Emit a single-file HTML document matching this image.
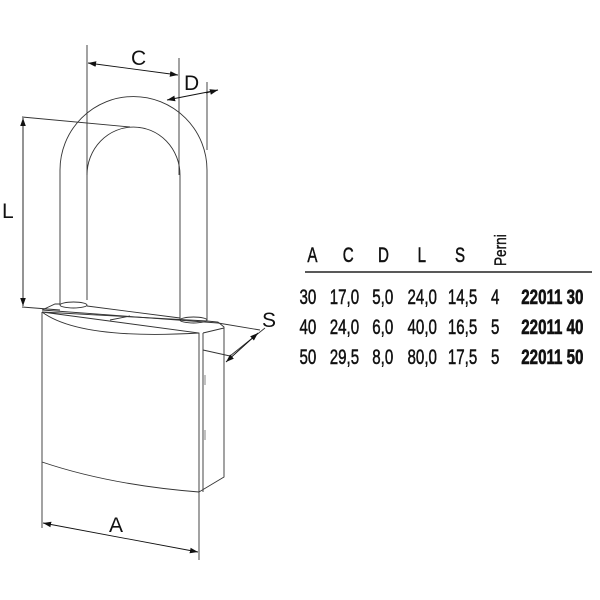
<!DOCTYPE html>
<html><head><style>
html,body{margin:0;padding:0;background:#fff;}
svg{display:block}
.t{font-family:"Liberation Sans",sans-serif;font-size:21px;fill:#111;stroke:#111;stroke-width:0.5}
.b{font-weight:bold;stroke-width:0.6}
</style></head><body>
<svg width="600" height="600" viewBox="0 0 600 600">
<defs><marker id="ar" viewBox="0 0 10 10" refX="10" refY="5" markerWidth="9" markerHeight="9" orient="auto-start-reverse"><path d="M0,1.5 L10,5 L0,8.5z" fill="#111"/></marker></defs>
<g fill="none" stroke="#333" stroke-width="0.9">
<path d="M60,305 L60,170 A73.5,73.5 0 0 1 207,170 L207,320"/>
<path d="M87,300 L87,175 A46.5,48 0 0 1 180,175 L180,320"/>
<ellipse cx="73.5" cy="305" rx="13.5" ry="3"/>
<ellipse cx="193.5" cy="320" rx="13.5" ry="3"/>
<path d="M42,310 L55,304 L60,304 M87,306 L180,318 M207,321 L218,322 L224,327 L224,477 L199,492 L199,333 L42,312 Z"/>
<path d="M42,312 L42,462 Q110,485 199,492"/>
<path d="M42,312 Q80,340 199,333"/>
<path d="M42,310 L218,323"/>
<path d="M203,333 L203,492 M203,333 L224,328"/>
<path d="M205,375 L205,385 M205,430 L205,440" stroke-width="0.6"/>
<path d="M110,320 L130,316"/>
<path d="M87,45 L87,175 M179,58 L179,175 M207,82 L207,150"/>
<path d="M22,117 L130,127 M22,307 L60,310"/>
<path d="M42,462 L42,528 M199,492 L199,560"/>
<path d="M218,323 L260,330 M203,350 L230,356 M230,356 L265,328"/>
</g>
<g stroke="#111" stroke-width="0.9" fill="none">
<line x1="88" y1="63" x2="178" y2="75" marker-start="url(#ar)" marker-end="url(#ar)"/>
<line x1="167" y1="100" x2="218" y2="90" marker-start="url(#ar)"/>
<line x1="206" y1="93" x2="218" y2="90" marker-end="url(#ar)"/>
<line x1="23" y1="118" x2="23" y2="306" marker-start="url(#ar)" marker-end="url(#ar)"/>
<line x1="43" y1="523" x2="198" y2="552" marker-start="url(#ar)" marker-end="url(#ar)"/>
<line x1="258" y1="333" x2="226" y2="362" marker-start="url(#ar)" marker-end="url(#ar)"/>
</g>
<g font-family="Liberation Sans,sans-serif" font-size="21" fill="#111">
<text x="131" y="65">C</text>
<text x="184" y="90">D</text>
<text x="2" y="218">L</text>
<text x="109" y="532">A</text>
<text x="262" y="327">S</text>
</g>
<g class="t" transform="scale(0.72,1)">
<text x="427" y="262">A</text>
<text x="476" y="262">C</text>
<text x="525" y="262">D</text>
<text x="580" y="262">L</text>
<text x="632" y="262">S</text>
<g><text x="416" y="304">30</text><text x="458" y="304">17,0</text><text x="517" y="304">5,0</text><text x="566" y="304">24,0</text><text x="622" y="304">14,5</text><text x="682" y="304">4</text><text class="b" x="724" y="304">22011 30</text></g>
<g><text x="416" y="334">40</text><text x="458" y="334">24,0</text><text x="517" y="334">6,0</text><text x="566" y="334">40,0</text><text x="622" y="334">16,5</text><text x="682" y="334">5</text><text class="b" x="724" y="334">22011 40</text></g>
<g><text x="416" y="364">50</text><text x="458" y="364">29,5</text><text x="517" y="364">8,0</text><text x="566" y="364">80,0</text><text x="622" y="364">17,5</text><text x="682" y="364">5</text><text class="b" x="724" y="364">22011 50</text></g>
</g>
<text transform="translate(506,266) rotate(-90) scale(0.8,1)" font-family="Liberation Sans,sans-serif" font-size="17" fill="#111" stroke="#111" stroke-width="0.4">Perni</text>
<line x1="305" y1="272" x2="592" y2="272" stroke="#222" stroke-width="1.5"/>
</svg>
</body></html>
